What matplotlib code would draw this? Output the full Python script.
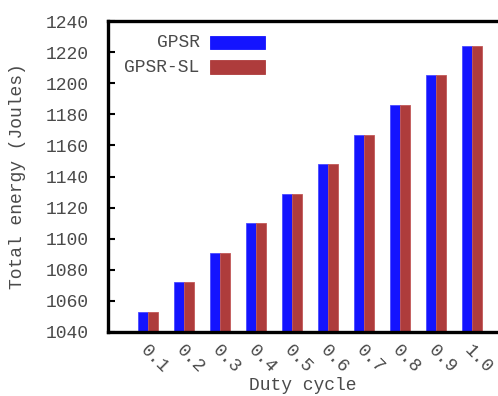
import numpy as np
import matplotlib
matplotlib.use("Agg")
import matplotlib.pyplot as plt
import matplotlib.transforms as mtransforms
from matplotlib.patches import Rectangle

duty_cycle = ["0.1", "0.2", "0.3", "0.4", "0.5", "0.6", "0.7", "0.8", "0.9", "1.0"]
gpsr = [1053, 1072, 1091, 1110, 1129, 1148, 1167, 1186, 1205, 1224]
gpsr_sl = [1053, 1072, 1091, 1110, 1129, 1148, 1167, 1186, 1205, 1224]
series_names = ["GPSR", "GPSR-SL"]

plt.rcParams['font.family'] = ['Liberation Mono', 'DejaVu Sans Mono']
txt_col = '#4a4a4a'

fig = plt.figure(figsize=(4.98, 3.96), dpi=100)
ax = fig.add_axes([108/498, 64/396, 390/498, 311/396])

x = np.arange(len(duty_cycle))
w = 0.28
c_blue = '#1414ff'
c_red = '#ae3c3c'
ax.bar(x - w/2, gpsr, w, color=c_blue, edgecolor='#4a4aff', linewidth=0.6)
ax.bar(x + w/2, gpsr_sl, w, color=c_red, edgecolor='#c25858', linewidth=0.6)

ax.set_ylim(1040, 1240)
ax.set_yticks(np.arange(1040, 1241, 20))
ax.set_xlim(-1.11, 9.72)
ax.set_xticks(x)
ax.set_xticklabels(duty_cycle, rotation=-45, ha='center')

ax.tick_params(axis='y', direction='in', length=5, width=1.5, labelsize=13,
               labelcolor=txt_col, pad=14)
ax.tick_params(axis='x', length=0, labelsize=13, labelcolor=txt_col, pad=7)

# nudge rotated labels a bit to the right like the original
shift = mtransforms.ScaledTranslation(6/100, 0, fig.dpi_scale_trans)
for lab in ax.get_xticklabels():
    lab.set_transform(lab.get_transform() + shift)

for s in ['left', 'top', 'bottom']:
    ax.spines[s].set_linewidth(2.4)
ax.spines['right'].set_visible(False)

ax.set_xlabel('Duty cycle', fontsize=13, color=txt_col, labelpad=0)
ax.set_ylabel('Total energy (Joules)', fontsize=13, color=txt_col, labelpad=14)

# gnuplot style key: right aligned text, box after it
key_y = [0.932, 0.852]
for name, col, ky in zip(series_names, [c_blue, c_red], key_y):
    ax.text(0.235, ky, name, transform=ax.transAxes, ha='right', va='center',
            fontsize=13, color=txt_col)
    ax.add_patch(Rectangle((0.262, ky - 0.021), 0.141, 0.042, transform=ax.transAxes,
                           facecolor=col, edgecolor=col, linewidth=0.6, clip_on=False))

fig.savefig('out.png', dpi=100)
